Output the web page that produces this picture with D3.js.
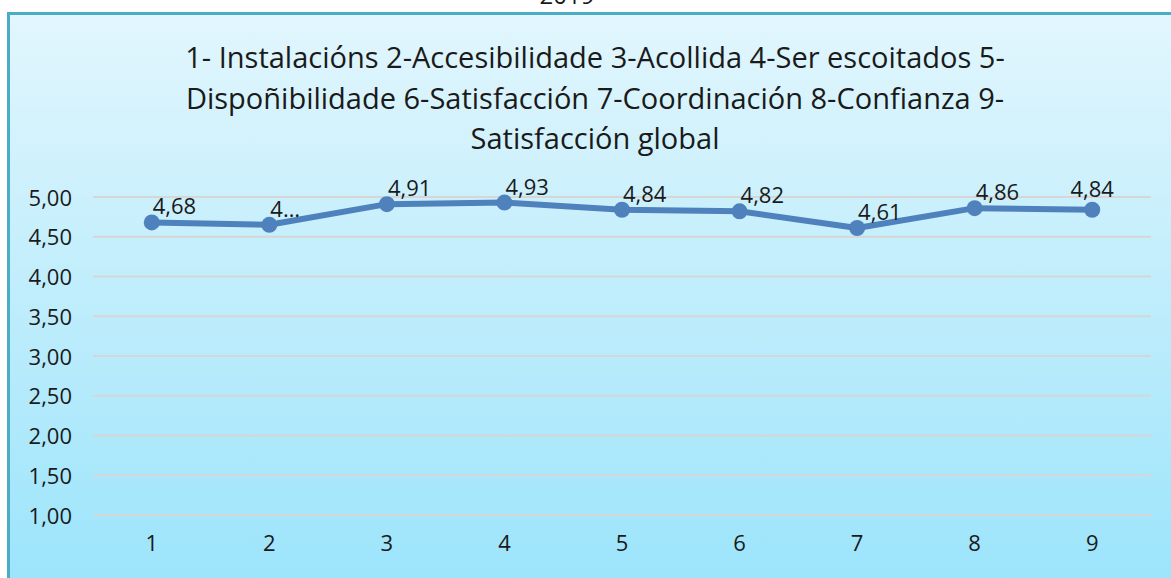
<!DOCTYPE html>
<html>
<head>
<meta charset="utf-8">
<script src="https://cdn.jsdelivr.net/npm/d3@7"></script>
<style>
  html, body { margin: 0; padding: 0; background: #fff; }
  svg { display: block; }
  text { font-family: "Open Sans", sans-serif; fill: #1a1a1a; }
</style>
</head>
<body>
<div id="grafico"></div>
<script>
// Datos do gráfico
const categorias = ["1", "2", "3", "4", "5", "6", "7", "8", "9"];
const valores = [4.68, 4.65, 4.91, 4.93, 4.84, 4.82, 4.61, 4.86, 4.84];
const etiquetas = ["4,68", "4…", "4,91", "4,93", "4,84", "4,82", "4,61", "4,86", "4,84"];
const ticksY = [1, 1.5, 2, 2.5, 3, 3.5, 4, 4.5, 5];
const tituloLinhas = [
    "1- Instalacións 2-Accesibilidade 3-Acollida 4-Ser escoitados 5-",
    "Dispoñibilidade 6-Satisfacción 7-Coordinación 8-Confianza 9-",
    "Satisfacción global"
];
const anoTexto = "2019";

const largura = 1171, altura = 578;
const margin = { top: 197, bottom: 63, left: 93, right: 20 };

const svg = d3.select("#grafico")
    .append("svg")
    .attr("width", largura)
    .attr("height", altura);

// Degradado de fondo
const grad = svg.append("defs").append("linearGradient")
    .attr("id", "fondo")
    .attr("x1", 0).attr("y1", 0).attr("x2", 0).attr("y2", 1);
grad.append("stop").attr("offset", "0%").attr("stop-color", "#e2f6fd");
grad.append("stop").attr("offset", "100%").attr("stop-color", "#9be4fb");

svg.append("rect")
    .attr("x", 8.5).attr("y", 13.5)
    .attr("width", largura + 20).attr("height", altura)
    .attr("fill", "url(#fondo)")
    .attr("stroke", "#4bacc6")
    .attr("stroke-width", 3);

// Texto cortado enriba (o ano, como na imaxe orixinal)
svg.append("text")
    .attr("x", 567).attr("y", 4)
    .attr("text-anchor", "middle")
    .style("font-size", "24px")
    .text(anoTexto);

// Escalas
const x = d3.scaleBand()
    .domain(categorias)
    .range([margin.left, largura - margin.right]);

const y = d3.scaleLinear()
    .domain([1, 5])
    .range([altura - margin.bottom, margin.top]);

// Liñas de grella
svg.append("g")
    .selectAll("line")
    .data(ticksY)
    .enter()
    .append("line")
    .attr("x1", margin.left)
    .attr("x2", largura - margin.right)
    .attr("y1", d => y(d))
    .attr("y2", d => y(d))
    .attr("stroke", "#d6d6d6")
    .attr("stroke-width", 2);

// Eixo Y
const eixoY = svg.append("g")
    .attr("transform", `translate(${margin.left - 21}, 1)`)
    .call(d3.axisLeft(y).tickValues(ticksY).tickSize(0).tickPadding(0)
        .tickFormat(d => d3.format(".2f")(d).replace(".", ",")));
eixoY.select(".domain").remove();
eixoY.selectAll("text").style("font-size", "22px").style("font-family", "Open Sans");

// Eixo X
const eixoX = svg.append("g")
    .attr("transform", `translate(0, ${altura - margin.bottom + 20})`)
    .call(d3.axisBottom(x).tickSize(0).tickPadding(0));
eixoX.select(".domain").remove();
eixoX.selectAll("text").style("font-size", "22px").style("font-family", "Open Sans");

// Liña
const cx = (d, i) => x(categorias[i]) + x.bandwidth() / 2;
const linha = d3.line()
    .x(cx)
    .y(d => y(d));

svg.append("path")
    .datum(valores)
    .attr("d", linha)
    .attr("fill", "none")
    .attr("stroke", "#4f81bd")
    .attr("stroke-width", 6)
    .attr("stroke-linejoin", "round");

svg.selectAll("circle.ponto")
    .data(valores)
    .enter()
    .append("circle")
    .attr("class", "ponto")
    .attr("cx", cx)
    .attr("cy", d => y(d))
    .attr("r", 8)
    .attr("fill", "#4f81bd");

// Etiquetas de valor
svg.selectAll("text.valor")
    .data(valores)
    .enter()
    .append("text")
    .attr("class", "valor")
    .attr("x", (d, i) => cx(d, i) + (i === valores.length - 1 ? 0 : 1))
    .attr("y", (d, i) => y(d) - (i === valores.length - 1 ? 13 : 8))
    .attr("text-anchor", (d, i) => i === valores.length - 1 ? "middle" : "start")
    .style("font-size", "22px")
    .text((d, i) => etiquetas[i]);

// Título
svg.append("g")
    .selectAll("text")
    .data(tituloLinhas)
    .enter()
    .append("text")
    .attr("x", 595)
    .attr("y", (d, i) => 68 + i * 40.5)
    .attr("text-anchor", "middle")
    .style("font-size", "29px")
    .text(d => d);
</script>
</body>
</html>
